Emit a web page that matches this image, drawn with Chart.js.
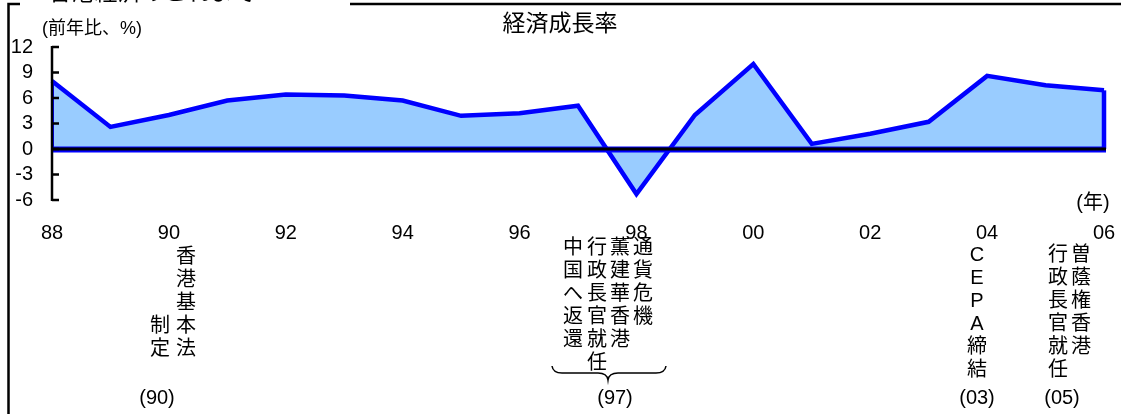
<!DOCTYPE html>
<html lang="ja">
<head>
<meta charset="utf-8">
<title>経済成長率</title>
<script src="https://cdn.jsdelivr.net/npm/chart.js@4.4.0/dist/chart.umd.min.js"></script>
<style>
    html, body { margin: 0; padding: 0; background: #ffffff; }
    #wrap { width: 1121px; height: 414px; }
</style>
</head>
<body>
<div id="wrap"><canvas id="growthChart" width="1121" height="414"></canvas></div>
<script>
// data
const years = ['88', '89', '90', '91', '92', '93', '94', '95', '96', '97', '98', '99', '00', '01', '02', '03', '04', '05', '06'];
const growthRates = [8.0, 2.6, 4.0, 5.7, 6.4, 6.3, 5.7, 3.9, 4.2, 5.1, -5.3, 4.0, 10.0, 0.6, 1.8, 3.2, 8.6, 7.5, 6.9];
const yTicks = [-6, -3, 0, 3, 6, 9, 12];

const pageTitle = '香港経済のこれまで';
const chartTitle = '経済成長率';
const unitLabel = '(前年比、%)';
const yearUnit = '(年)';

// vertical notes, columns listed right to left
const noteColumns = [
    ['香港基本法', '制定'],
    ['通貨危機', '薫建華香港', '行政長官就任', '中国へ返還'],
    ['CEPA締結'],
    ['曽蔭権香港', '行政長官就任']
];
const noteYears = ['(90)', '(97)', '(03)', '(05)'];

const LATIN = '"Liberation Sans", "Noto Sans CJK JP", sans-serif';

function drawColumn(ctx, text, x, top, step) {
    [...text].forEach((ch, i) => {
        ctx.fillText(ch, x, top + i * step);
    });
}

const decorPlugin = {
    id: 'decor',
    beforeDraw(chart) {
        const ctx = chart.ctx;
        ctx.save();
        ctx.fillStyle = '#ffffff';
        ctx.fillRect(0, 0, chart.width, chart.height);

        // frame
        ctx.strokeStyle = '#000000';
        ctx.lineWidth = 2.5;
        ctx.beginPath();
        ctx.moveTo(8.5, 414);
        ctx.lineTo(8.5, 4);
        ctx.lineTo(20, 4);
        ctx.moveTo(350, 4);
        ctx.lineTo(1121, 4);
        ctx.stroke();

        // page title, cut off by the top edge
        ctx.fillStyle = '#000000';
        ctx.textAlign = 'center';
        ctx.textBaseline = 'middle';
        ctx.font = '23px "Noto Sans CJK JP", sans-serif';
        ctx.fillText(pageTitle, 152, -9);

        ctx.font = '23px "Noto Sans CJK JP", sans-serif';
        ctx.fillText(chartTitle, 560, 22);

        ctx.textAlign = 'left';
        ctx.font = '18px ' + LATIN;
        ctx.fillText(unitLabel, 42, 29);
        ctx.restore();
    },
    afterDatasetsDraw(chart) {
        const ctx = chart.ctx;
        const x = chart.scales.x;
        const y = chart.scales.y;
        const zero = y.getPixelForValue(0);
        const first = x.getPixelForValue(0);
        const lastIndex = years.length - 1;
        const last = x.getPixelForValue(lastIndex);

        ctx.save();
        // edges of the filled area
        ctx.strokeStyle = '#0000ff';
        ctx.lineWidth = 4.5;
        ctx.beginPath();
        ctx.moveTo(last, y.getPixelForValue(growthRates[lastIndex]));
        ctx.lineTo(last, zero);
        ctx.stroke();
        ctx.lineWidth = 2;
        ctx.beginPath();
        ctx.moveTo(first + 1, y.getPixelForValue(growthRates[0]));
        ctx.lineTo(first + 1, zero);
        ctx.stroke();

        // zero line
        ctx.lineWidth = 6;
        ctx.beginPath();
        ctx.moveTo(first, zero + 0.5);
        ctx.lineTo(last + 2, zero + 0.5);
        ctx.stroke();
        ctx.strokeStyle = '#000000';
        ctx.lineWidth = 3;
        ctx.beginPath();
        ctx.moveTo(first, zero);
        ctx.lineTo(last + 2, zero);
        ctx.stroke();

        // y axis with inward ticks
        ctx.lineWidth = 2.5;
        ctx.beginPath();
        ctx.moveTo(first, y.getPixelForValue(yTicks[yTicks.length - 1]) - 1);
        ctx.lineTo(first, y.getPixelForValue(yTicks[0]) + 1);
        yTicks.forEach((v) => {
            const py = y.getPixelForValue(v);
            ctx.moveTo(first, py);
            ctx.lineTo(first + 7, py);
        });
        ctx.stroke();

        // year unit
        ctx.fillStyle = '#000000';
        ctx.textAlign = 'center';
        ctx.textBaseline = 'middle';
        ctx.font = '20px ' + LATIN;
        ctx.fillText(yearUnit, 1093, 203);

        // notes
        const step = 23;
        ctx.font = '20px ' + LATIN;
        drawColumn(ctx, noteColumns[0][0], 186, 257, step);
        drawColumn(ctx, noteColumns[0][1], 160, 257 + 3 * step, step);

        const cols97 = [643, 620, 597, 573];
        noteColumns[1].forEach((text, i) => drawColumn(ctx, text, cols97[i], 248, step));

        drawColumn(ctx, noteColumns[2][0], 977, 255, step);

        const cols05 = [1081, 1058];
        noteColumns[3].forEach((text, i) => drawColumn(ctx, text, cols05[i], 255, step));

        // brace under the 97 notes
        ctx.lineWidth = 1.5;
        ctx.beginPath();
        ctx.moveTo(552, 366);
        ctx.quadraticCurveTo(553, 373, 562, 373);
        ctx.lineTo(598, 373);
        ctx.quadraticCurveTo(607, 373, 608, 380);
        ctx.quadraticCurveTo(609, 373, 618, 373);
        ctx.lineTo(656, 373);
        ctx.quadraticCurveTo(665, 373, 666, 366);
        ctx.stroke();

        ctx.font = '20px ' + LATIN;
        const yearX = [157, 615, 977, 1062];
        noteYears.forEach((text, i) => ctx.fillText(text, yearX[i], 398));
        ctx.restore();
    }
};

new Chart(document.getElementById('growthChart'), {
    type: 'line',
    data: {
        labels: years,
        datasets: [{
            label: chartTitle,
            data: growthRates,
            borderColor: '#0000ff',
            backgroundColor: '#99ccff',
            borderWidth: 4.5,
            pointRadius: 0,
            pointHoverRadius: 0,
            tension: 0,
            fill: 'origin'
        }]
    },
    options: {
        responsive: false,
        animation: false,
        devicePixelRatio: 1,
        layout: {
            padding: { left: 0, right: 17, top: 47, bottom: 0 }
        },
        plugins: {
            legend: { display: false },
            title: { display: false },
            tooltip: { enabled: false }
        },
        scales: {
            x: {
                type: 'category',
                offset: false,
                grid: { display: false, drawTicks: false },
                border: { display: false },
                ticks: {
                    autoSkip: false,
                    maxRotation: 0,
                    minRotation: 0,
                    padding: 21,
                    color: '#000000',
                    font: { family: LATIN, size: 20 },
                    callback(value, index) {
                        return index % 2 === 0 ? years[index] : '';
                    }
                },
                afterFit(scale) {
                    scale.height = 214;
                    scale.paddingLeft = 0;
                    scale.paddingRight = 0;
                }
            },
            y: {
                min: -6,
                max: 12,
                grid: { display: false, drawTicks: false },
                border: { display: false },
                ticks: {
                    autoSkip: false,
                    padding: 19,
                    color: '#000000',
                    font: { family: LATIN, size: 20 }
                },
                afterBuildTicks(scale) {
                    scale.ticks = yTicks.map((v) => ({ value: v }));
                },
                afterFit(scale) {
                    scale.width = 52;
                    scale.paddingTop = 0;
                    scale.paddingBottom = 0;
                }
            }
        }
    },
    plugins: [decorPlugin]
});
</script>
</body>
</html>
